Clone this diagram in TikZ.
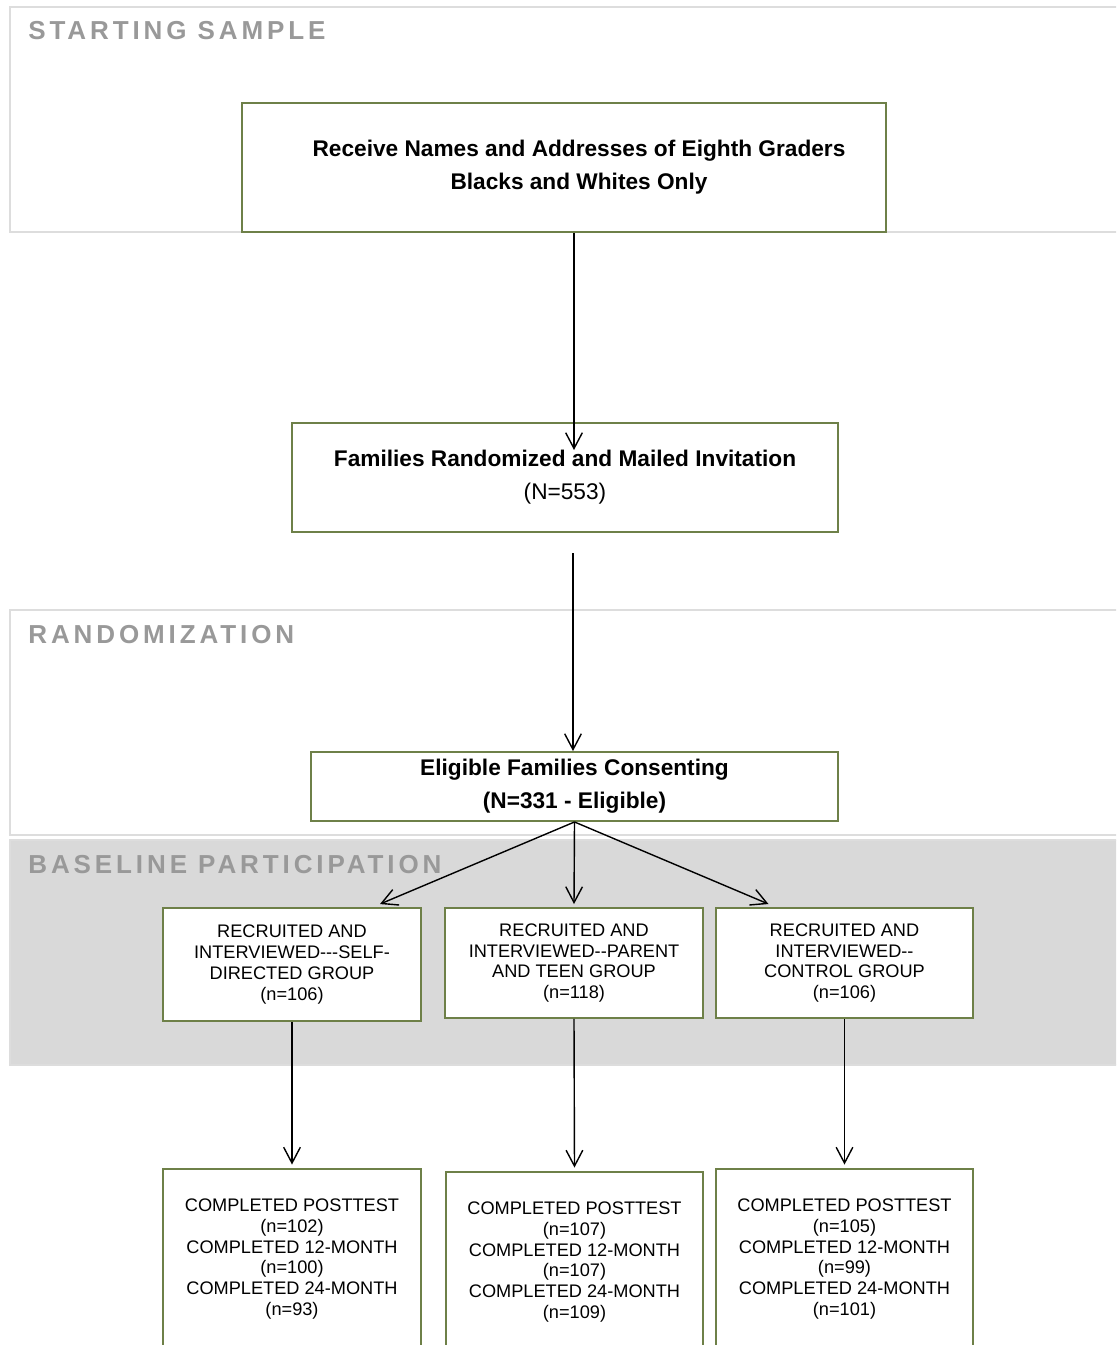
\documentclass[tikz,border=0pt]{standalone}
\usepackage{fontspec}
\setmainfont{Liberation Sans}[Ligatures=TeXOff]
\newfontfamily\bandfont[LetterSpace=15]{Liberation Sans}
\usetikzlibrary{arrows.meta,calc}

\definecolor{boxgreen}{RGB}{110,128,72}
\definecolor{bandline}{RGB}{221,221,221}
\definecolor{bandgray}{RGB}{217,217,217}
\definecolor{titlegray}{RGB}{153,153,153}

\tikzset{
  stagebox/.style={draw=boxgreen, line width=1.1pt, fill=white, inner sep=0pt, align=center},
  bigtext/.style={font=\fontsize{12.9}{18.8}\selectfont},
  smalltext/.style={font=\fontsize{10.35}{11.9}\selectfont},
  band/.style={draw=bandline, line width=1.1pt},
  bandtitle/.style={anchor=west, inner sep=0pt, text=titlegray, font=\bandfont\bfseries\fontsize{14.8}{17}\selectfont},
  arr/.style={-{Straight Barb[length=9pt,width=9.5pt]}, line width=0.8pt},
}

\begin{document}
\begin{tikzpicture}[x=0.02cm, y=-0.02cm]
    \clip (0,0) rectangle (1116,1345);

    % stage bands
    \draw[band] (10,7) rectangle (1130,232);
    \draw[band] (10,610) rectangle (1130,835);
    \draw[band, fill=bandgray] (10,840) rectangle (1130,1065);
    \node[bandtitle] (start) at (28,31) {STARTING SAMPLE};
    \node[bandtitle] (rand) at (28,635) {RANDOMIZATION};
    \node[bandtitle] (base) at (28,865) {BASELINE PARTICIPATION};

    % main column
    \node[stagebox, bigtext, minimum width=12.88cm, minimum height=2.58cm] (receive) at (564,167.5)
        {\hspace*{0.6cm}\textbf{Receive Names and Addresses of Eighth Graders}\\\hspace*{0.6cm}\textbf{Blacks and Whites Only}};
    \node[stagebox, bigtext, minimum width=10.92cm, minimum height=2.18cm] (mailed) at (565,477.5)
        {\textbf{Families Randomized and Mailed Invitation}\\(N=553)};
    \node[stagebox, bigtext, minimum width=10.54cm, minimum height=1.38cm] (consent) at (574.5,786.5)
        {\textbf{Eligible Families Consenting}\\\textbf{(N=331 - Eligible)}};

    % the three groups
    \node[stagebox, smalltext, minimum width=5.16cm, minimum height=2.26cm] (selfdir) at (292,964.5)
        {RECRUITED AND\\INTERVIEWED---SELF-\\DIRECTED GROUP\\(n=106)};
    \node[stagebox, smalltext, minimum width=5.16cm, minimum height=2.2cm] (parteen) at (574,963)
        {RECRUITED AND\\INTERVIEWED--PARENT\\AND TEEN GROUP\\(n=118)};
    \node[stagebox, smalltext, minimum width=5.14cm, minimum height=2.2cm] (control) at (844.5,963)
        {RECRUITED AND\\INTERVIEWED--\\CONTROL GROUP\\(n=106)};

    % follow-up
    \node[stagebox, smalltext, minimum width=5.16cm, minimum height=3.6cm] (selfout) at (292,1259)
        {COMPLETED POSTTEST\\(n=102)\\COMPLETED 12-MONTH\\(n=100)\\COMPLETED 24-MONTH\\(n=93)};
    \node[stagebox, smalltext, minimum width=5.14cm, minimum height=3.6cm] (partout) at (574.5,1262)
        {COMPLETED POSTTEST\\(n=107)\\COMPLETED 12-MONTH\\(n=107)\\COMPLETED 24-MONTH\\(n=109)};
    \node[stagebox, smalltext, minimum width=5.14cm, minimum height=3.6cm] (ctrlout) at (844.5,1259)
        {COMPLETED POSTTEST\\(n=105)\\COMPLETED 12-MONTH\\(n=99)\\COMPLETED 24-MONTH\\(n=101)};

    % arrows
    \coordinate (drop) at (574,450);
    \draw[arr] (receive.south -| drop) -- (drop);
    \coordinate (lift) at (573,553);
    \draw[arr] (lift) -- (lift |- consent.north);

    \draw[arr] (consent.south) -- ($(selfdir.north)+(88,-3)$);
    \draw[arr] (consent.south) -- ($(parteen.north)+(0,-3)$);
    \draw[arr] (consent.south) -- ($(control.north)+(-76,-3)$);

    \foreach \a/\b in {selfdir/selfout, parteen/partout, control/ctrlout}
        \draw[arr, shorten >=2pt] (\a.south) -- (\b.north);

\end{tikzpicture}
\end{document}
